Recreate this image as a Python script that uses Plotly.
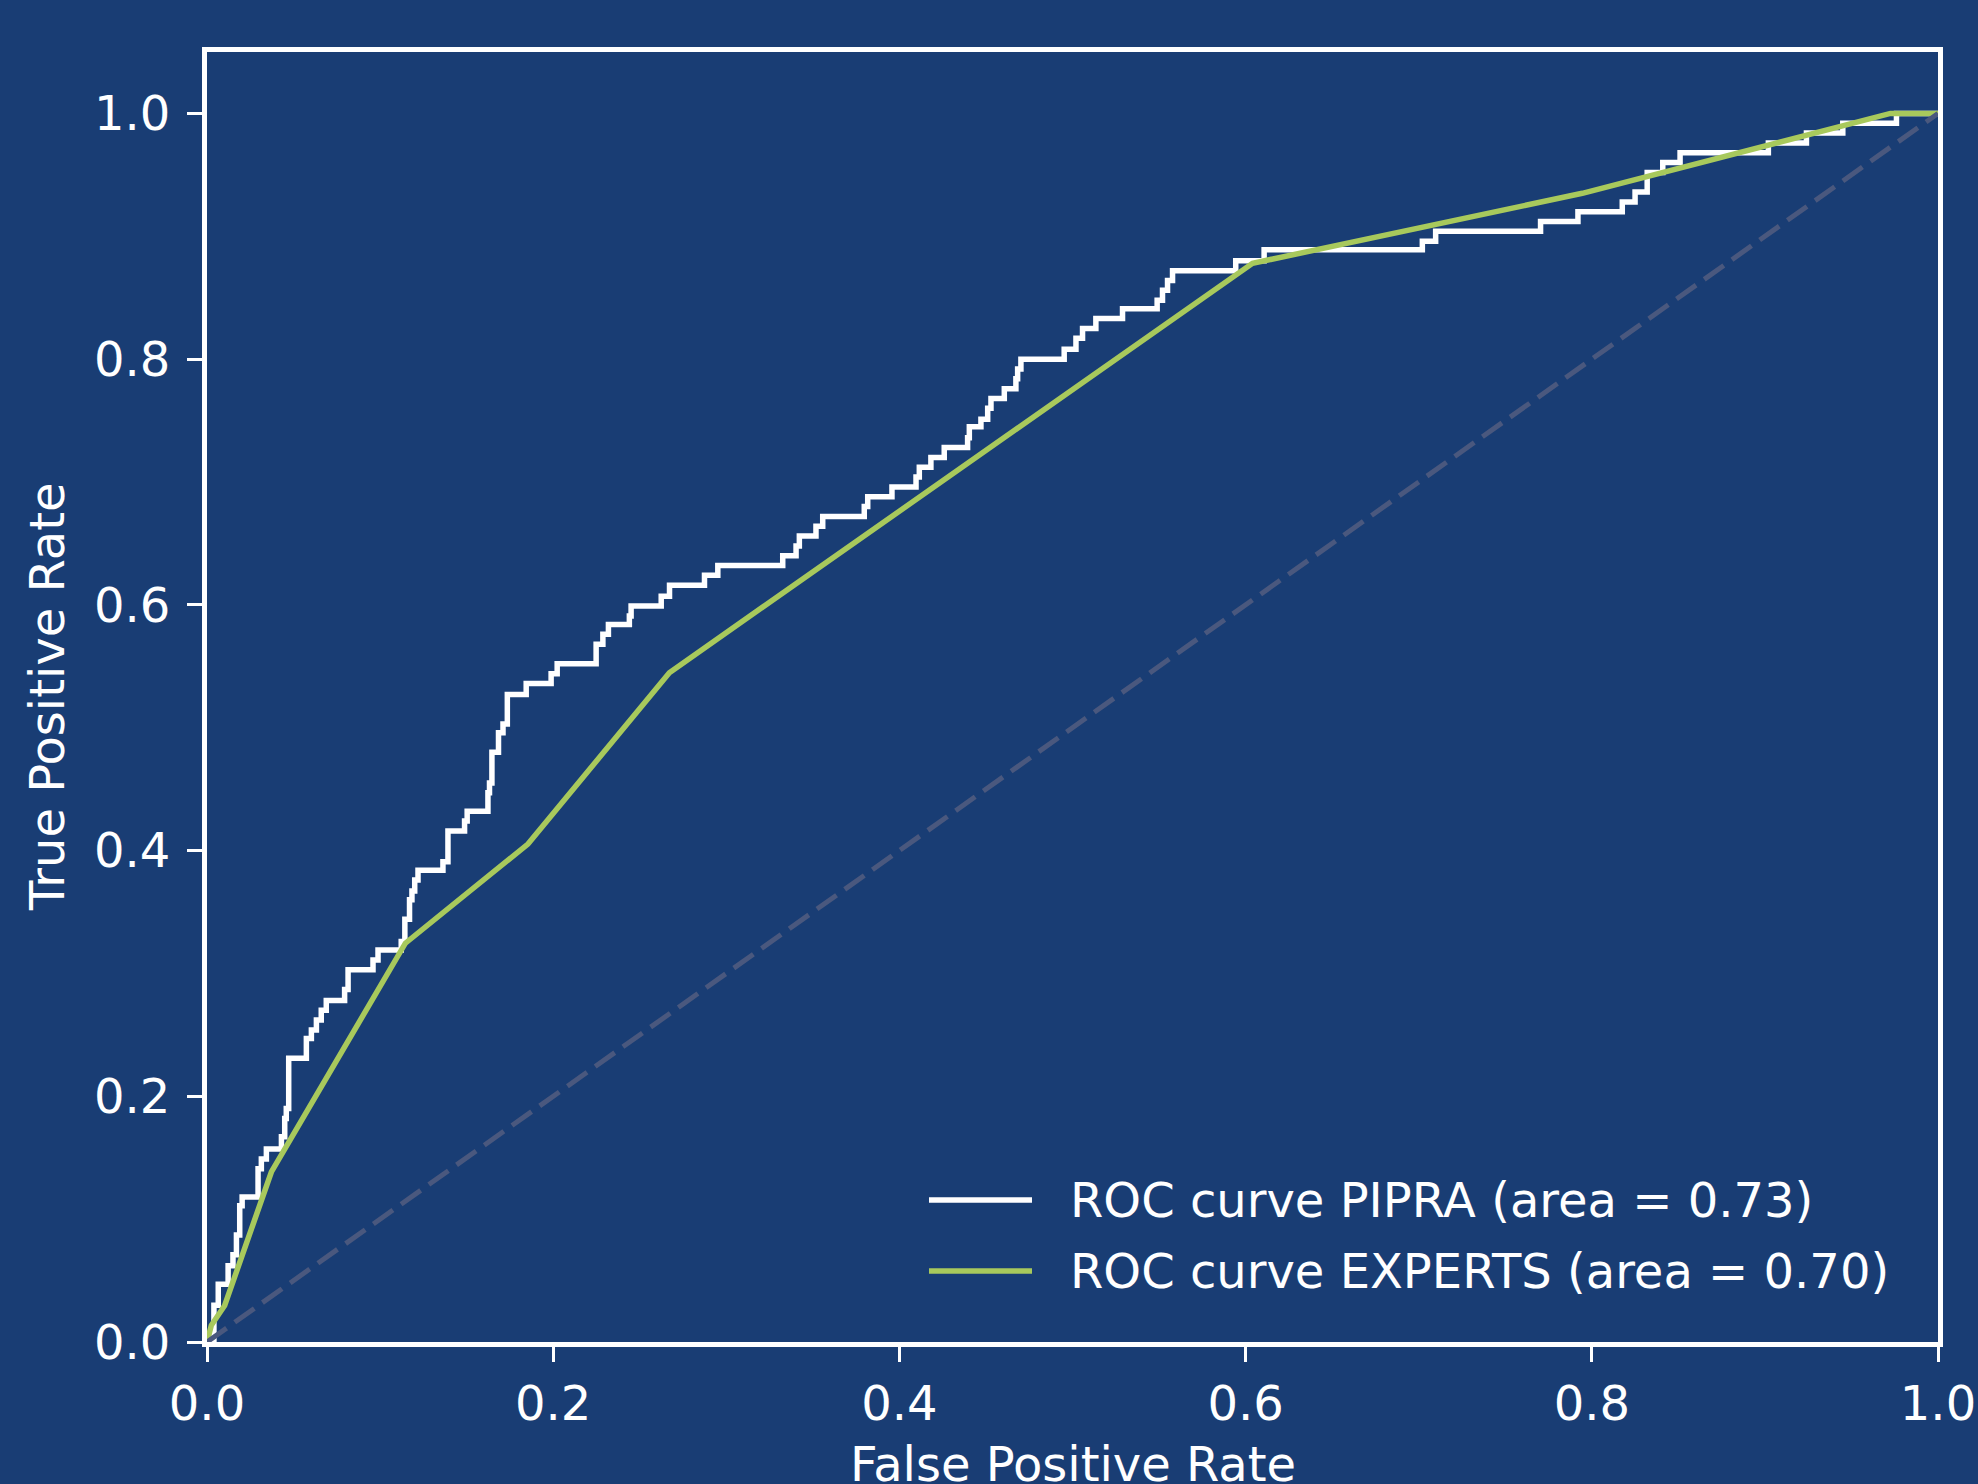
import plotly.graph_objects as go

# ---- data ----
pipra_fpr = [0.0, 0.004, 0.0065, 0.0122, 0.015, 0.017, 0.0189, 0.0203, 0.0295, 0.0314,
             0.0343, 0.043, 0.0449, 0.0458, 0.0472, 0.0574, 0.0603, 0.0632, 0.066, 0.0689,
             0.0795, 0.0815, 0.0959, 0.0988, 0.1122, 0.1143, 0.117, 0.1184, 0.120, 0.1219,
             0.1363, 0.1392, 0.1488, 0.1503, 0.1623, 0.1632, 0.1646, 0.1684, 0.171, 0.1735,
             0.1844, 0.1988, 0.2023, 0.2248, 0.2287, 0.2319, 0.244, 0.245, 0.2624, 0.2672,
             0.2874, 0.2951, 0.3326, 0.3403, 0.3422, 0.3518, 0.3557, 0.3797, 0.3817, 0.3957,
             0.4096, 0.4115, 0.4182, 0.4259, 0.4394, 0.4404, 0.4471, 0.451, 0.4529, 0.4606,
             0.4673, 0.4683, 0.4702, 0.4952, 0.502, 0.5058, 0.5135, 0.5289, 0.5489, 0.552,
             0.5549, 0.5578, 0.5943, 0.6107, 0.7021, 0.7098, 0.7704, 0.792, 0.8176, 0.825,
             0.832, 0.841, 0.851, 0.902, 0.924, 0.945, 0.976, 1.0]
pipra_tpr = [0.0, 0.030, 0.047, 0.062, 0.071, 0.087, 0.111, 0.118, 0.141, 0.149,
             0.157, 0.167, 0.182, 0.190, 0.231, 0.247, 0.254, 0.262, 0.270, 0.278,
             0.287, 0.303, 0.311, 0.319, 0.326, 0.344, 0.360, 0.367, 0.376, 0.384,
             0.391, 0.416, 0.424, 0.432, 0.447, 0.455, 0.480, 0.496, 0.503, 0.527,
             0.536, 0.544, 0.552, 0.568, 0.576, 0.584, 0.591, 0.599, 0.607, 0.616,
             0.624, 0.632, 0.640, 0.648, 0.656, 0.664, 0.672, 0.680, 0.688, 0.696,
             0.704, 0.712, 0.720, 0.728, 0.736, 0.745, 0.751, 0.760, 0.768, 0.776,
             0.784, 0.792, 0.800, 0.808, 0.817, 0.825, 0.833, 0.841, 0.848, 0.856,
             0.864, 0.872, 0.880, 0.889, 0.896, 0.904, 0.912, 0.920, 0.928, 0.936,
             0.952, 0.960, 0.968, 0.976, 0.984, 0.992, 1.0, 1.0]

experts_fpr = [0.0, 0.0025, 0.0102, 0.0372, 0.1146, 0.1854, 0.2671, 0.604, 0.7945, 0.9725, 1.0]
experts_tpr = [0.0, 0.0136, 0.0297, 0.1384, 0.3246, 0.4053, 0.5448, 0.878, 0.935, 1.0, 1.0]

chance_x = [0.0, 1.0]
chance_y = [0.0, 1.0]

label_pipra = "ROC curve PIPRA (area = 0.73)"
label_experts = "ROC curve EXPERTS (area = 0.70)"
tick_vals = [0.0, 0.2, 0.4, 0.6, 0.8, 1.0]
tick_text = ["0.0", "0.2", "0.4", "0.6", "0.8", "1.0"]

# ---- style ----
BG = "#193d74"
WHITE = "#ffffff"
GREEN = "#a8c95c"
GREY = "rgb(74,88,126)"
FONT = "DejaVu Sans"
FS = 48
LW = 5.5

fig = go.Figure()
fig.add_trace(go.Scatter(x=pipra_fpr, y=pipra_tpr, mode="lines", line_shape="hv",
                         line=dict(color=WHITE, width=LW), name=label_pipra))
fig.add_trace(go.Scatter(x=experts_fpr, y=experts_tpr, mode="lines",
                         line=dict(color=GREEN, width=LW), name=label_experts))
fig.add_trace(go.Scatter(x=chance_x, y=chance_y, mode="lines",
                         line=dict(color=GREY, width=5, dash="24px,10px"),
                         showlegend=False))

axis_common = dict(
    showgrid=False, zeroline=False, automargin=False,
    showline=True, linecolor=WHITE, linewidth=5, mirror=True,
    ticks="outside", ticklen=15, tickwidth=3, tickcolor=WHITE,
    tickvals=tick_vals, ticktext=tick_text,
    tickfont=dict(family=FONT, size=FS, color=WHITE),
)

fig.update_xaxes(range=[0, 1], **axis_common)
fig.update_yaxes(range=[0, 1.05], ticklabelstandoff=7, **axis_common)

W, H = 1978, 1484
L, R, T, B = 207, 40, 52, 142
pw, ph = W - L - R, H - T - B

def px_x(X):
    return (X - L) / pw

def px_y(Y):
    return (H - B - Y) / ph

annotations = [
    dict(text="False Positive Rate", xref="paper", yref="paper",
         x=0.5, y=px_y(1464), xanchor="center", yanchor="middle", showarrow=False,
         font=dict(family=FONT, size=FS, color=WHITE)),
    dict(text="True Positive Rate", xref="paper", yref="paper",
         x=px_x(47), y=0.5, xanchor="center", yanchor="middle", showarrow=False,
         textangle=-90, font=dict(family=FONT, size=FS, color=WHITE)),
    dict(text=label_pipra, xref="paper", yref="paper",
         x=px_x(1068), y=px_y(1200), xanchor="left", yanchor="middle", showarrow=False,
         font=dict(family=FONT, size=FS, color=WHITE)),
    dict(text=label_experts, xref="paper", yref="paper",
         x=px_x(1068), y=px_y(1271), xanchor="left", yanchor="middle", showarrow=False,
         font=dict(family=FONT, size=FS, color=WHITE)),
]
shapes = [
    dict(type="line", xref="paper", yref="paper", x0=px_x(929), x1=px_x(1032),
         y0=px_y(1200), y1=px_y(1200), line=dict(color=WHITE, width=LW)),
    dict(type="line", xref="paper", yref="paper", x0=px_x(929), x1=px_x(1032),
         y0=px_y(1271), y1=px_y(1271), line=dict(color=GREEN, width=LW)),
]

fig.update_layout(
    width=W, height=H,
    margin=dict(l=L, r=R, t=T, b=B, pad=0, autoexpand=False),
    paper_bgcolor=BG, plot_bgcolor=BG,
    showlegend=False,
    font=dict(family=FONT, size=FS, color=WHITE),
    annotations=annotations, shapes=shapes,
)

fig.write_html(
    "out.html",
    config={"displayModeBar": False},
    post_script="document.body.style.margin='0';document.body.style.overflow='hidden';"
                "document.body.style.background='" + BG + "';",
)
